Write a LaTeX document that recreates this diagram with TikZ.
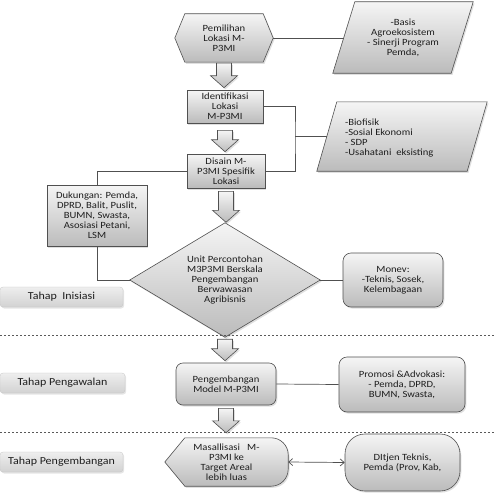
\documentclass[tikz,border=0pt]{standalone}
\usepackage{fontspec}
\setmainfont{Carlito}[FakeStretch=1.12]
\usetikzlibrary{calc,backgrounds,shadows,arrows.meta}
\definecolor{edge}{HTML}{505050}
\definecolor{ink}{HTML}{1E1E1E}
\definecolor{gtop}{HTML}{F5F5F5}
\definecolor{gbot}{HTML}{BBBBBB}
\definecolor{stop}{HTML}{EEEEEE}
\definecolor{sbot}{HTML}{D2D2D2}
\tikzset{
  shp/.style={draw=edge, line width=0.6pt, top color=gtop, bottom color=gbot,
    drop shadow={opacity=0.25, shadow xshift=1.3pt, shadow yshift=-1.6pt}},
  txtfont/.style={text=ink, font=\fontsize{9.5}{9.9}\selectfont, align=center},
  box/.style={shp, rectangle, inner sep=1pt, txtfont},
  rbox/.style={box, rounded corners=#1},
  holder/.style={rectangle, inner sep=0pt, txtfont},
  stage/.style={rectangle, rounded corners=3pt, top color=stop, bottom color=sbot,
    draw=gray!45, line width=0.3pt, minimum height=20pt, text=ink,
    font=\fontsize{10.7}{12}\selectfont,
    drop shadow={opacity=0.2, shadow xshift=1.2pt, shadow yshift=-1.5pt}},
  conn/.style={draw=edge, line width=0.7pt},
  phase/.style={draw=gray!70!black, line width=0.6pt, dash pattern=on 2.2pt off 1.8pt}
}
\newcommand\blockarr[4]{%
  \path[shp, line join=miter] let \p1=(#1.south), \p2=(#2.north) in
    (\x1-7.5pt,\y1-#3) -- (\x1+7.5pt,\y1-#3) -- (\x1+7.5pt,\y2+#4+12pt)
    -- (\x1+13.5pt,\y2+#4+12pt) -- (\x1,\y2+#4) -- (\x1-13.5pt,\y2+#4+12pt)
    -- (\x1-7.5pt,\y2+#4+12pt) -- cycle;}
\begin{document}
\begin{tikzpicture}[x=1pt,y=-1pt]
\useasboundingbox (0,0) rectangle (495,495);

% --- upper part ---
\node[holder, minimum width=98pt, minimum height=48pt] (hex) at (224,38)
  {Pemilihan\\Lokasi M-\\P3MI};
\node[holder, minimum width=118pt, minimum height=71pt] (p1) at (403,37.5)
  {-Basis\\Agroekosistem\\- Sinerji Program\\Pemda,};
\node[box, minimum width=76pt, minimum height=33pt] (ident) at (225,106.5)
  {Identifikasi\\Lokasi\\M-P3MI};
\node[box, minimum width=78pt, minimum height=34pt] (disain) at (226,171)
  {Disain M-\\P3MI Spesifik\\Lokasi};
\node[holder, minimum width=150pt, minimum height=69pt] (p2) at (402,136.5) {};
\node[holder, text width=92pt, align=flush left] (p2t) at (391,138)
  {-Biofisik\\-Sosial Ekonomi\\- SDP\\-Usahatani\ \ eksisting};
\node[box, minimum width=100pt, minimum height=61pt] (duk) at (97,215.5)
  {Dukungan: Pemda,\\DPRD, Balit, Puslit,\\BUMN, Swasta,\\Asosiasi Petani,\\LSM};
\node[holder, minimum width=190pt, minimum height=114pt] (diam) at (225,280)
  {Unit Percontohan\\M3P3MI Berskala\\Pengembangan\\Berwawasan\\Agribisnis};
\node[rbox=8pt, minimum width=100pt, minimum height=54pt] (monev) at (393,280)
  {Monev:\\-Teknis, Sosek,\\Kelembagaan};
\node[stage, minimum width=123pt] (s1) at (61.5,297) {Tahap\ \ Inisiasi};

% --- middle part ---
\node[rbox=7pt, minimum width=100pt, minimum height=42pt] (peng) at (226,384)
  {Pengembangan\\Model M-P3MI};
\node[rbox=8pt, minimum width=126pt, minimum height=55pt] (prom) at (402,384.5)
  {Promosi \&Advokasi:\\- Pemda, DPRD,\\BUMN, Swasta,};
\node[stage, minimum width=125pt] (s2) at (62.5,383) {Tahap Pengawalan};

% --- lower part ---
\node[holder, minimum width=123pt, minimum height=48pt] (mas) at (226.5,462)
  {Masallisasi\ \ \ M-\\P3MI ke\\Target Areal\\lebih luas};
\node[rbox=20pt, minimum width=115pt, minimum height=57pt] (dit) at (402.5,462.5)
  {DItjen Teknis,\\Pemda (Prov, Kab,};
\node[stage, minimum width=123pt] (s3) at (61.5,462) {Tahap Pengembangan};

% --- custom shapes behind text ---
\begin{scope}[on background layer]
  \fill[white] (0,0) rectangle (495,495);
  \path[shp] (hex.west) -- ([xshift=10pt]hex.north west) -- ([xshift=-10pt]hex.north east)
    -- (hex.east) -- ([xshift=-10pt]hex.south east) -- ([xshift=10pt]hex.south west) -- cycle;
  \path[shp] ([xshift=11pt]p1.north west) -- ([xshift=11pt]p1.north east)
    -- ([xshift=-11pt]p1.south east) -- ([xshift=-11pt]p1.south west) -- cycle;
  \path[shp] ([xshift=10pt]p2.north west) -- ([xshift=10pt]p2.north east)
    -- ([xshift=-10pt]p2.south east) -- ([xshift=-10pt]p2.south west) -- cycle;
  \path[shp] (diam.north) -- (diam.east) -- (diam.south) -- (diam.west) -- cycle;
  \path[shp] (mas.west) -- ([xshift=20pt]mas.north west)
    [rounded corners=17pt] -- (mas.north east) -- (mas.south east)
    [sharp corners] -- ([xshift=20pt]mas.south west) -- cycle;
\end{scope}

% --- block arrows ---
\blockarr{hex}{ident}{1pt}{2pt}
\blockarr{ident}{disain}{7pt}{2pt}
\blockarr{disain}{diam}{3pt}{0.5pt}
\blockarr{diam}{peng}{2pt}{2pt}
\blockarr{peng}{mas}{3pt}{5pt}

% --- phase separators ---
\coordinate (d1l) at (0,335);
\coordinate (d1r) at (495,335);
\coordinate (d2l) at (0,432);
\coordinate (d2r) at (495,432);
\draw[phase] (d1l) -- (d1r);
\draw[phase] (d2l) -- (d2r);

% --- connectors ---
\coordinate (j) at (295,136.5);
\draw[conn] (hex.east) -- ($(p1.west)+(0,0.5)$);
\draw[conn] (ident.east) -| (j) |- (disain.east);
\draw[conn] (j) -- (p2.west);
\draw[conn] (disain.west) -| (duk.north);
\draw[conn] (duk.south) |- (diam.west);
\draw[conn] (diam.east) -- (monev.west);
\draw[conn] (peng.east) -- (prom.west);
\draw[conn, {Straight Barb[length=4pt,width=7pt]}-{Straight Barb[length=4pt,width=7pt]}] (mas.east) -- (dit.west);
\end{tikzpicture}
\end{document}
